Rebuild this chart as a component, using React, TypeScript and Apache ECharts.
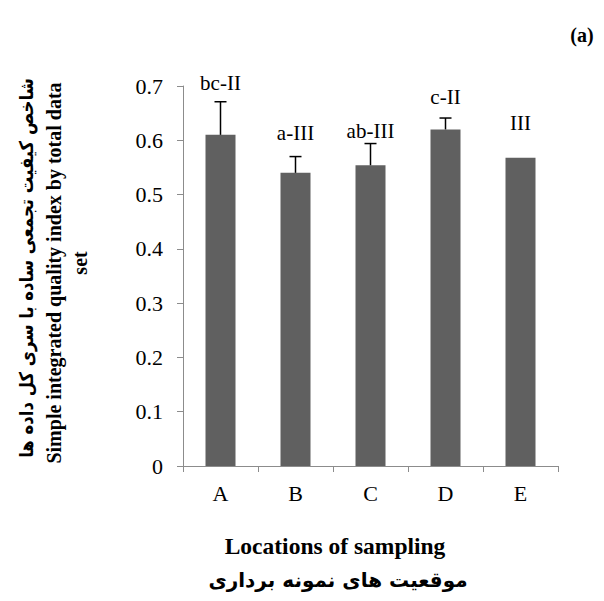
import React, { useEffect, useRef } from "react";
import * as echarts from "echarts";

const categories = ["A", "B", "C", "D", "E"];
const means = [0.61, 0.54, 0.554, 0.62, 0.568];
const errUpper = [0.671, 0.57, 0.594, 0.641, 0.568];
const groupLabels = ["bc-II", "a-III", "ab-III", "c-II", "III"];
const labelY = [0.705, 0.613, 0.617, 0.68, 0.632];
const yTicks = { min: 0, max: 0.7, interval: 0.1 };

const yTitleFa = "شاخص کیفیت تجمعی ساده با سری کل داده ها";
const yTitleEn1 = "Simple integrated quality index by total data";
const yTitleEn2 = "set";
const xTitleEn = "Locations of sampling";
const xTitleFa = "موقعیت های نمونه برداری";
const panelLabel = "(a)";

const serif = "'Liberation Serif', 'Times New Roman', serif";
const faFont = "'DejaVu Sans', 'Noto Sans', sans-serif";

export default function App() {
  const ref = useRef<HTMLDivElement>(null);
  useEffect(() => {
    if (!ref.current) return;
    const chart = echarts.init(ref.current, null, { renderer: "svg" });
    const axisGray = "#8c8c8c";
    chart.setOption({
      animation: false,
      backgroundColor: "#ffffff",
      grid: { left: 183, right: 46, top: 86, bottom: 135 },
      xAxis: {
        type: "category",
        data: categories,
        boundaryGap: true,
        axisLine: { lineStyle: { color: axisGray, width: 1 } },
        axisTick: { show: true, length: 6, lineStyle: { color: axisGray } },
        axisLabel: {
          color: "#000",
          fontFamily: serif,
          fontSize: 22,
          margin: 16,
        },
      },
      yAxis: {
        type: "value",
        min: yTicks.min,
        max: yTicks.max,
        interval: yTicks.interval,
        splitLine: { show: false },
        axisLine: { show: true, lineStyle: { color: axisGray, width: 1 } },
        axisTick: { show: true, length: 6, lineStyle: { color: axisGray } },
        axisLabel: {
          color: "#000",
          fontFamily: serif,
          fontSize: 22,
          margin: 20,
          formatter: (v: number) => (v === 0 ? "0" : v.toFixed(1)),
        },
      },
      series: [
        {
          type: "bar",
          data: means,
          barWidth: "40%",
          itemStyle: { color: "#606060" },
          z: 2,
        },
        {
          type: "custom",
          data: categories.map((_, i) => [i, means[i], errUpper[i]]),
          z: 3,
          renderItem: (params: any, api: any) => {
            const x = api.coord([api.value(0), api.value(1)])[0];
            const y0 = api.coord([api.value(0), api.value(1)])[1];
            const y1 = api.coord([api.value(0), api.value(2)])[1];
            if (Math.abs(y0 - y1) < 0.5) return { type: "group", children: [] };
            const half = 6;
            return {
              type: "group",
              children: [
                {
                  type: "line",
                  shape: { x1: x, y1: y0, x2: x, y2: y1 },
                  style: { stroke: "#000", lineWidth: 1.5 },
                },
                {
                  type: "line",
                  shape: { x1: x - half, y1: y1, x2: x + half, y2: y1 },
                  style: { stroke: "#000", lineWidth: 1.5 },
                },
              ],
            };
          },
        },
        {
          type: "custom",
          data: categories.map((_, i) => [i, labelY[i]]),
          z: 4,
          renderItem: (params: any, api: any) => {
            const p = api.coord([api.value(0), api.value(1)]);
            return {
              type: "text",
              x: p[0],
              y: p[1],
              style: {
                text: groupLabels[params.dataIndex],
                fill: "#000",
                fontFamily: serif,
                fontSize: 21,
                align: "center",
                verticalAlign: "middle",
              },
            };
          },
        },
      ],
      graphic: [
        {
          type: "text",
          x: 26,
          y: 268,
          rotation: Math.PI / 2,
          scaleX: 0.87,
          style: {
            text: yTitleFa,
            fontFamily: faFont,
            fontWeight: "bold",
            fontSize: 19,
            fill: "#000",
            align: "center",
            verticalAlign: "middle",
          },
        },
        {
          type: "text",
          x: 54,
          y: 273,
          rotation: Math.PI / 2,
          style: {
            text: yTitleEn1,
            fontFamily: serif,
            fontWeight: 700,
            fontSize: 20,
            fill: "#000",
            align: "center",
            verticalAlign: "middle",
          },
        },
        {
          type: "text",
          x: 80,
          y: 263,
          rotation: Math.PI / 2,
          style: {
            text: yTitleEn2,
            fontFamily: serif,
            fontWeight: 700,
            fontSize: 20,
            fill: "#000",
            align: "center",
            verticalAlign: "middle",
          },
        },
        {
          type: "text",
          x: 335,
          y: 546,
          style: {
            text: xTitleEn,
            fontFamily: serif,
            fontWeight: "bold",
            fontSize: 23.5,
            fill: "#000",
            align: "center",
            verticalAlign: "middle",
          },
        },
        {
          type: "text",
          x: 338,
          y: 580,
          style: {
            text: xTitleFa,
            fontFamily: faFont,
            fontWeight: "bold",
            fontSize: 20,
            fill: "#000",
            align: "center",
            verticalAlign: "middle",
          },
        },
        {
          type: "text",
          x: 582,
          y: 35,
          style: {
            text: panelLabel,
            fontFamily: serif,
            fontWeight: "bold",
            fontSize: 20,
            fill: "#000",
            align: "center",
            verticalAlign: "middle",
          },
        },
      ],
    });
    return () => chart.dispose();
  }, []);
  return <div ref={ref} style={{ width: 604, height: 601, margin: -8 }} />;
}
